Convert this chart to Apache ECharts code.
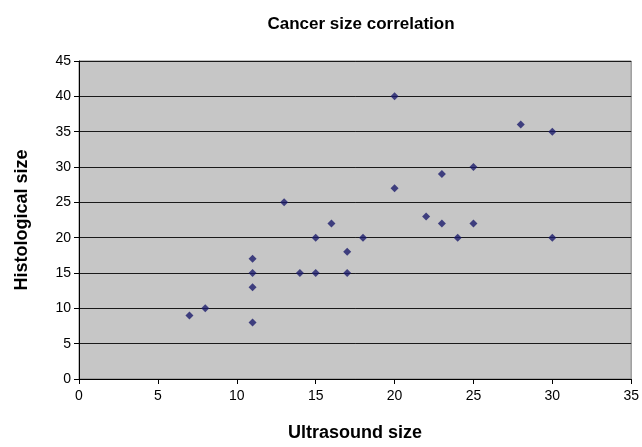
<!DOCTYPE html>
<html>
<head>
<meta charset="utf-8">
<script src="https://cdn.jsdelivr.net/npm/echarts@6/dist/echarts.min.js"></script>
<style>
  html, body { margin: 0; padding: 0; background: #fff; }
  #chart { width: 642px; height: 447px; }
</style>
</head>
<body>
<div id="chart"></div>
<script>
// ultrasound size vs histological size
const ultrasound = [7, 8, 11, 11, 11, 11, 13, 14, 15, 15, 16, 17, 17, 18, 20, 20, 22, 23, 23, 24, 25, 25, 28, 30, 30]
const histological = [9, 10, 8, 13, 15, 17, 25, 15, 15, 20, 22, 15, 18, 20, 27, 40, 23, 22, 29, 20, 22, 30, 36, 35, 20]

const points = ultrasound.map((u, i) => [u, histological[i]])

const chart = echarts.init(document.getElementById('chart'))
chart.setOption({
  animation: false,
  title: {
    text: 'Cancer size correlation',
    left: 356,
    top: 11,
    textAlign: 'center',
    textStyle: { fontFamily: 'Liberation Sans', fontSize: 17, fontWeight: 'bold', color: '#000' }
  },
  grid: {
    left: 79, right: 10, top: 61, bottom: 67,
    show: true,
    backgroundColor: '#c6c6c6',
    borderColor: '#808080',
    borderWidth: 1
  },
  xAxis: {
    type: 'value',
    min: 0, max: 35, interval: 5,
    name: 'Ultrasound size',
    nameLocation: 'middle',
    nameGap: 45,
    nameTextStyle: { fontFamily: 'Liberation Sans', fontSize: 18, fontWeight: 'bold', color: '#000' },
    axisLine: { show: true, onZero: false, lineStyle: { color: '#000' } },
    axisTick: { show: true, inside: false, length: 5, lineStyle: { color: '#000' } },
    axisLabel: { fontFamily: 'Liberation Sans', fontSize: 14, color: '#000', margin: 10 },
    splitLine: { show: false }
  },
  yAxis: {
    type: 'value',
    min: 0, max: 45, interval: 5,
    name: 'Histological size',
    nameLocation: 'middle',
    nameGap: 48,
    nameTextStyle: { fontFamily: 'Liberation Sans', fontSize: 18, fontWeight: 'bold', color: '#000' },
    axisLine: { show: true, lineStyle: { color: '#000' } },
    axisTick: { show: true, inside: false, length: 5, lineStyle: { color: '#000' } },
    axisLabel: { fontFamily: 'Liberation Sans', fontSize: 14, color: '#000', margin: 8 },
    splitLine: { show: true, lineStyle: { color: '#1a1a1a', width: 1 } }
  },
  series: [
    {
      type: 'scatter',
      data: points,
      symbol: 'diamond',
      symbolSize: 8,
      itemStyle: { color: '#1c1c6b' }
    }
  ]
})
</script>
</body>
</html>
